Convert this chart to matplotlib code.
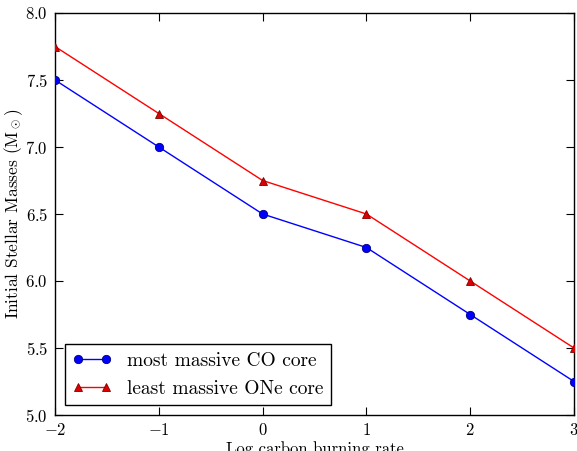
import matplotlib
matplotlib.use("Agg")
import matplotlib.pyplot as plt

x = [-2, -1, 0, 1, 2, 3]
co_core = [7.5, 7.0, 6.5, 6.25, 5.75, 5.25]
one_core = [7.75, 7.25, 6.75, 6.5, 6.0, 5.5]
xticks = [-2, -1, 0, 1, 2, 3]
yticks = [5.0, 5.5, 6.0, 6.5, 7.0, 7.5, 8.0]

plt.rcParams['mathtext.fontset'] = 'cm'
plt.rcParams['font.family'] = ['cmr10', 'DejaVu Serif']
plt.rcParams['axes.formatter.use_mathtext'] = True
plt.rcParams['axes.unicode_minus'] = True

fig = plt.figure(figsize=(5.77, 4.51), dpi=100)
ax = fig.add_axes([55/577, 1-415/451, (574-55)/577, (415-13)/451])

ax.plot(x, co_core, color='blue', marker='o', markersize=6, markeredgecolor='#00007f',
        markeredgewidth=0.6, lw=1, label='most massive CO core', zorder=3)
ax.plot(x, one_core, color='red', marker='^', markersize=6, markeredgecolor='#7f0000',
        markeredgewidth=0.6, markerfacecolor='#dd0000', lw=1, label='least massive ONe core', zorder=3)

ax.set_xlim(-2, 3)
ax.set_ylim(5.0, 8.0)
ax.set_xticks(xticks)
ax.set_xticklabels([f'$\\mathdefault{{{t}}}$' for t in xticks])
ax.set_yticks(yticks)
ax.set_yticklabels([f'$\\mathdefault{{{t:.1f}}}$' for t in yticks])
ax.tick_params(direction='in', top=True, right=True, length=6, width=0.8, labelsize=12, pad=5)
for s in ax.spines.values():
    s.set_linewidth(1.0)

ax.set_xlabel('Log carbon burning rate', fontsize=12, labelpad=2)
ax.set_ylabel(r'Initial Stellar Masses ($\mathrm{M}_\odot$)', fontsize=12.5, labelpad=0)

leg = ax.legend(loc='lower left', fontsize=14, fancybox=False,
                framealpha=1, edgecolor='black', borderaxespad=0.5, handlelength=2.0,
                handletextpad=0.8, numpoints=2, borderpad=0.4, labelspacing=0.5)
leg.get_frame().set_linewidth(1.0)

fig.savefig('out.png', dpi=100)
